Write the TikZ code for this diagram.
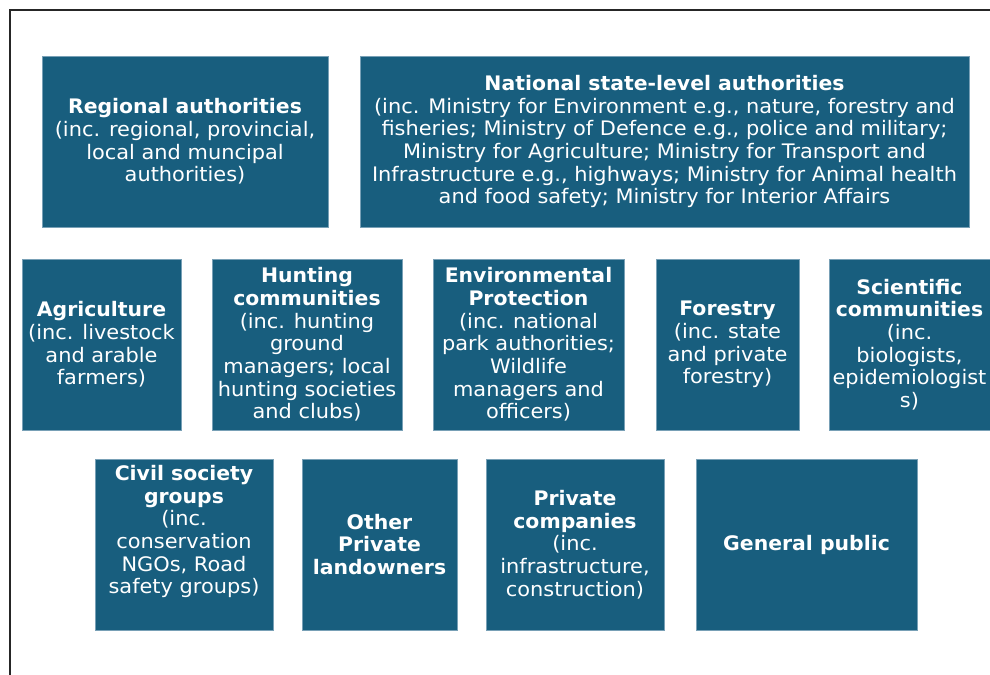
\documentclass[tikz,border=0pt]{standalone}
\usepackage{fontspec}
\setmainfont{DejaVu Sans}[FakeStretch=1.045,BoldFeatures={FakeStretch=1.02}]
\definecolor{boxblue}{RGB}{24,94,126}
\definecolor{boxedge}{RGB}{120,160,182}
\begin{document}
\begin{tikzpicture}[x=0.75pt,y=-0.75pt,
  box/.style={fill=boxblue,draw=boxedge,line width=0.4pt,text=white,align=center,
    font=\fontsize{15}{17}\selectfont,inner sep=0pt,minimum height=128.25pt},
  lbl/.style={text=white,align=center,font=\fontsize{15}{17}\selectfont,inner sep=0pt}]
\useasboundingbox (0,0) rectangle (990,675);
\fill[white] (0,0) rectangle (990,675);
\draw[line width=1.6pt,black!85] (10,676) -- (10,10) -- (991,10);

% Row 1
\node[box,minimum width=214.5pt] (regional) at (185,141.5)
  {\textbf{Regional authorities}\\(inc. regional, provincial,\\local and muncipal\\authorities)};
\node[box,minimum width=456.75pt] (national) at (664.5,141.5)
  {\textbf{National state-level authorities}\\(inc. Ministry for Environment e.g., nature, forestry and\\fisheries; Ministry of Defence e.g., police and military;\\Ministry for Agriculture; Ministry for Transport and\\Infrastructure e.g., highways; Ministry for Animal health\\and food safety; Ministry for Interior Affairs};

% Row 2
\node[box,minimum width=119.25pt] (agri) at (101.5,344.5)
  {\textbf{Agriculture}\\(inc. livestock\\and arable\\farmers)};
\node[box,minimum width=142.5pt] (hunting) at (307,344.5)
  {\textbf{Hunting}\\\textbf{communities}\\(inc. hunting\\ground\\managers; local\\hunting societies\\and clubs)};
\node[box,minimum width=143.25pt] (envprot) at (528.5,344.5)
  {\textbf{Environmental}\\\textbf{Protection}\\(inc. national\\park authorities;\\Wildlife\\managers and\\officers)};
\node[box,minimum width=107.25pt] (forestry) at (727.5,344.5)
  {\textbf{Forestry}\\(inc. state\\and private\\forestry)};
\node[box,minimum width=120.75pt] (science) at (909.5,344.5)
  {\textbf{Scientific}\\\textbf{communities}\\(inc.\\biologists,\\epidemiologist\\s)};

% Row 3
\node[box,minimum width=133.5pt] (civil) at (184,544.5) {};
\node[lbl] (civiltext) at (184,531.5)
  {\textbf{Civil society}\\\textbf{groups}\\(inc.\\conservation\\NGOs, Road\\safety groups)};
\node[box,minimum width=116.25pt] (landowners) at (379.5,544.5)
  {\textbf{Other}\\\textbf{Private}\\\textbf{landowners}};
\node[box,minimum width=133.5pt] (companies) at (575,544.5)
  {\textbf{Private}\\\textbf{companies}\\(inc.\\infrastructure,\\construction)};
\node[box,minimum width=165.75pt] (public) at (806.5,544.5)
  {\textbf{General public}};
\end{tikzpicture}
\end{document}
